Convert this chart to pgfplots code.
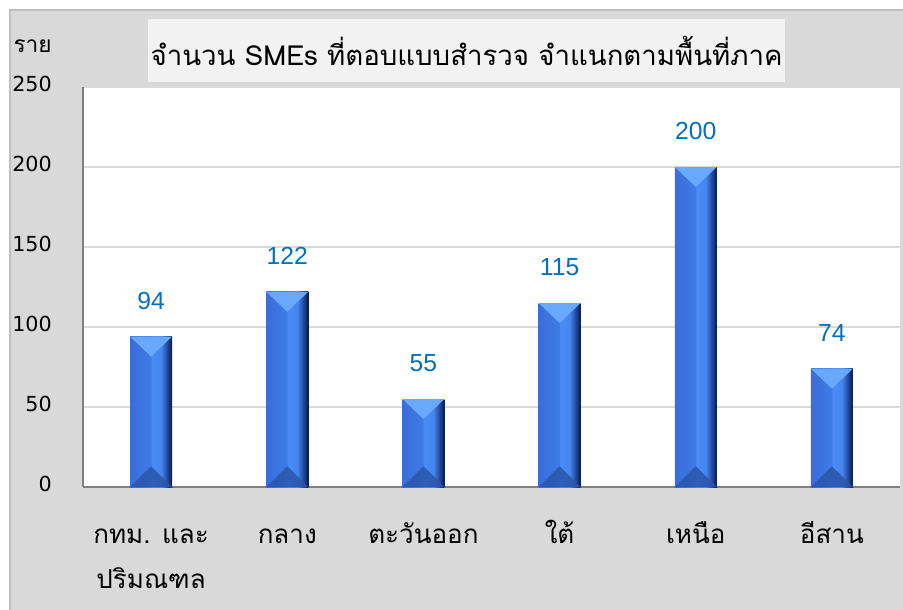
\documentclass[border=0pt]{standalone}
\usepackage{pgfplots}
\pgfplotsset{compat=1.18}
\usepackage{fontspec}
\setmainfont{DejaVu Sans}
\newfontfamily\thaifont[Script=Thai]{Loma}
\newfontfamily\numfont{Liberation Sans}
\definecolor{bggrey}{HTML}{D9D9D9}
\definecolor{bordergrey}{HTML}{BFBFBF}
\definecolor{titlebg}{HTML}{F2F2F2}
\definecolor{gridgrey}{HTML}{D9D9D9}
\definecolor{axgrey}{HTML}{808080}
\definecolor{lblblue}{HTML}{0070C0}
\definecolor{topbev}{HTML}{68A8FF}
\definecolor{botbev}{HTML}{2A55AA}
\pgfdeclarehorizontalshading{barshade}{100bp}{%
  rgb(0bp)=(0.22,0.43,0.85);
  rgb(25bp)=(0.22,0.43,0.85);
  rgb(49bp)=(0.25,0.48,0.90);
  rgb(51bp)=(0.29,0.55,0.97);
  rgb(62bp)=(0.27,0.52,0.93);
  rgb(68bp)=(0.15,0.32,0.68);
  rgb(75bp)=(0.04,0.10,0.25);
  rgb(100bp)=(0.04,0.10,0.25)}
\pgfplotsset{
  mybar/.style={ybar, bar width=31.5pt, bar shift=0pt, draw=none, shading=barshade,
    nodes near coords,
    every node near coord/.append style={font=\numfont\fontsize{18.5}{20}\selectfont, text=lblblue, anchor=south, inner sep=0pt, yshift=20pt}},
  topbevel/.style={fill=topbev, draw=none, forget plot, sharp plot, mark=none},
  botbevel/.style={fill=botbev, draw=none, forget plot, sharp plot, mark=none, fill opacity=0.85},
}
\begin{document}
\begin{tikzpicture}[x=0.75pt,y=-0.75pt]
\useasboundingbox (0,0) rectangle (903,610);
\fill[white] (0,0) rectangle (903,610);
\fill[bggrey] (10,10) rectangle (903,610);
\draw[bordergrey, line width=1.5pt] (10,611) -- (10,10) -- (904,10);
\begin{axis}[
  at={(62.25pt,-365.25pt)}, anchor=south west,
  scale only axis, width=612.75pt, height=300pt,
  axis background/.style={fill=white},
  xmin=-0.5, xmax=5.5, ymin=0, ymax=250,
  ytick={0,50,100,150,200,250},
  xtick={0,1,2,3,4,5},
  xticklabels={{\begin{tabular}[t]{@{}c@{}}กทม. และ\\ปริมณฑล\end{tabular}},กลาง,ตะวันออก,ใต้,เหนือ,อีสาน},
  major tick length=0pt,
  ymajorgrids, grid style={gridgrey, line width=1.5pt},
  axis x line*=bottom, axis y line*=left,
  x axis line style={axgrey, line width=1.5pt, -},
  y axis line style={axgrey, line width=0.8pt, -},
  /pgf/number format/assume math mode=true,
  yticklabel style={font=\fontsize{15.5}{18}\selectfont, anchor=east, inner sep=0pt, xshift=-23.25pt, yshift=2.6pt},
  xticklabel style={font=\thaifont\fontsize{19.5}{34}\selectfont, anchor=base, inner sep=0pt, yshift=-42pt},
  clip=false,
]
\addplot[mybar] coordinates {(0,94)};
\addplot[mybar] coordinates {(1,122)};
\addplot[mybar] coordinates {(2,55)};
\addplot[mybar] coordinates {(3,115)};
\addplot[mybar] coordinates {(4,200)};
\addplot[mybar] coordinates {(5,74)};
% top bevels
\addplot[topbevel] coordinates {(-0.154,94) (0.154,94) (0,81.5)} --cycle;
\addplot[topbevel] coordinates {(0.846,122) (1.154,122) (1,109.5)} --cycle;
\addplot[topbevel] coordinates {(1.846,55) (2.154,55) (2,42.5)} --cycle;
\addplot[topbevel] coordinates {(2.846,115) (3.154,115) (3,102.5)} --cycle;
\addplot[topbevel] coordinates {(3.846,200) (4.154,200) (4,187.5)} --cycle;
\addplot[topbevel] coordinates {(4.846,74) (5.154,74) (5,61.5)} --cycle;
% bottom bevels
\addplot[botbevel] coordinates {(-0.154,0) (0.154,0) (0,13)} --cycle;
\addplot[botbevel] coordinates {(0.846,0) (1.154,0) (1,13)} --cycle;
\addplot[botbevel] coordinates {(1.846,0) (2.154,0) (2,13)} --cycle;
\addplot[botbevel] coordinates {(2.846,0) (3.154,0) (3,13)} --cycle;
\addplot[botbevel] coordinates {(3.846,0) (4.154,0) (4,13)} --cycle;
\addplot[botbevel] coordinates {(4.846,0) (5.154,0) (5,13)} --cycle;
\end{axis}
\node[fill=titlebg, minimum width=477.75pt, minimum height=47.25pt, inner sep=0pt, font=\thaifont\fontsize{20.7}{24}\selectfont] at (466.5,50.5) {จำนวน SMEs ที่ตอบแบบสำรวจ จำแนกตามพื้นที่ภาค};
\node[anchor=base east, inner sep=0pt, font=\thaifont\fontsize{17}{20}\selectfont] at (52,53) {ราย};
\end{tikzpicture}
\end{document}
